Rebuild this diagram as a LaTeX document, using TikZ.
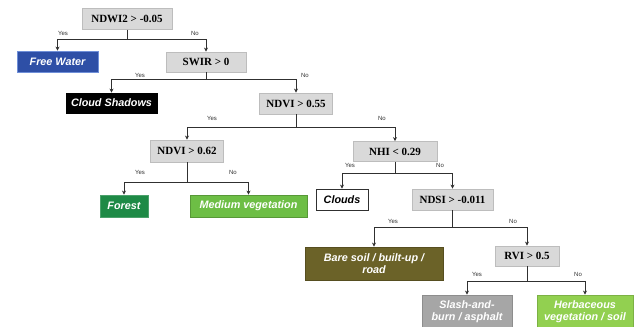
\documentclass[tikz,border=0pt]{standalone}
\usepackage{fontspec}
\setmainfont{Liberation Serif}
\newfontfamily\leaffont{Liberation Sans}
\usetikzlibrary{arrows.meta}
\definecolor{decfill}{HTML}{D9D9D9}
\definecolor{decdraw}{HTML}{BDBDBD}
\definecolor{waterc}{HTML}{2E4FA6}
\definecolor{waterd}{HTML}{6F8FD8}
\definecolor{forestc}{HTML}{1E8A46}
\definecolor{medc}{HTML}{6DBE45}
\definecolor{barec}{HTML}{6B6228}
\definecolor{slashc}{HTML}{A6A6A6}
\definecolor{herbc}{HTML}{92D050}
\definecolor{linec}{HTML}{303030}
\tikzset{
  decbox/.style={draw=decdraw, fill=decfill, line width=0.8pt, inner sep=0pt,
    font=\fontsize{11}{12}\selectfont\bfseries, text=black},
  leafbox/.style={inner sep=0pt, align=center, text=white, line width=0.8pt,
    font=\leaffont\fontsize{10.8}{12.5}\selectfont\bfseries\itshape},
  yn/.style={font=\leaffont\fontsize{6}{7}\selectfont, text=black!80, inner sep=0pt},
  conn/.style={draw=linec, line width=0.9pt, -{Stealth[length=4pt,width=4pt]}},
}
\begin{document}
\begin{tikzpicture}[x=1pt,y=-1pt]
\clip (0,0) rectangle (638,327);
\fill[white] (0,0) rectangle (638,327);
% decision nodes
\node[decbox, minimum width=90pt, minimum height=21pt] (n1) at (127,19) {NDWI2 > -0.05};
\node[decbox, minimum width=80pt, minimum height=20pt] (n2) at (206,62) {SWIR > 0};
\node[decbox, minimum width=73pt, minimum height=21pt] (n3) at (296,103.5) {NDVI > 0.55};
\node[decbox, minimum width=73pt, minimum height=22pt] (n4) at (187,151) {NDVI > 0.62};
\node[decbox, minimum width=84pt, minimum height=20pt] (n5) at (395,151.5) {NHI < 0.29};
\node[decbox, minimum width=81pt, minimum height=21pt] (n6) at (452.5,199.5) {NDSI > -0.011};
\node[decbox, minimum width=64pt, minimum height=20pt] (n7) at (527,256) {RVI > 0.5};
% leaves
\node[leafbox, draw=waterd, fill=waterc, minimum width=81pt, minimum height=21pt] (fw) at (57.5,61.5) {Free Water};
\node[leafbox, draw=black, fill=black, minimum width=91pt, minimum height=20pt] (cs) at (111.5,103) {Cloud Shadows};
\node[leafbox, draw=forestc!80!white, fill=forestc, minimum width=48pt, minimum height=22pt] (fo) at (124,206) {Forest};
\node[leafbox, draw=medc!80!black, fill=medc, minimum width=117pt, minimum height=22pt] (mv) at (248.5,206) {Medium vegetation};
\node[leafbox, draw=linec, fill=white, text=black, minimum width=52pt, minimum height=21pt] (cl) at (342,199.5) {Clouds};
\node[leafbox, draw=barec!80!black, fill=barec, minimum width=138pt, minimum height=33pt] (bs) at (374,263.5) {Bare soil / built-up /\\road};
\node[leafbox, draw=slashc!85!black, fill=slashc, minimum width=90pt, minimum height=33pt] (sb) at (467,311.5) {Slash-and-\\burn / asphalt};
\node[leafbox, draw=herbc!85!black, fill=herbc, minimum width=96pt, minimum height=33pt] (hv) at (585,311.5) {Herbaceous\\vegetation / soil};
% connectors
\draw[conn] (n1.south) -- ++(0,9.5) -| (fw.north);
\draw[conn] (n1.south) -- ++(0,9.5) -| (n2.north);
\draw[conn] (n2.south) -- ++(0,7) -| (cs.north);
\draw[conn] (n2.south) -- ++(0,7) -| (n3.north);
\draw[conn] (n3.south) -- ++(0,13) -| (n4.north);
\draw[conn] (n3.south) -- ++(0,13) -| (n5.north);
\draw[conn] (n4.south) -- ++(0,20) -| (fo.north);
\draw[conn] (n4.south) -- ++(0,20) -| (mv.north);
\draw[conn] (n5.south) -- ++(0,11.5) -| (cl.north);
\draw[conn] (n5.south) -- ++(0,11.5) -| (n6.north);
\draw[conn] (n6.south) -- ++(0,17) -| (bs.north);
\draw[conn] (n6.south) -- ++(0,17) -| (n7.north);
\draw[conn] (n7.south) -- ++(0,15) -| (sb.north);
\draw[conn] (n7.south) -- ++(0,15) -| (hv.north);
% yes/no labels
\node[yn] (y1) at (63,33) {Yes};   \node[yn] (m1) at (195,33) {No};
\node[yn] (y2) at (140,75) {Yes};  \node[yn] (m2) at (305,75) {No};
\node[yn] (y3) at (212,118) {Yes}; \node[yn] (m3) at (382,118) {No};
\node[yn] (y4) at (140,172) {Yes}; \node[yn] (m4) at (233,172) {No};
\node[yn] (y5) at (350,165) {Yes}; \node[yn] (m5) at (440,165) {No};
\node[yn] (y6) at (393,221) {Yes}; \node[yn] (m6) at (513,221) {No};
\node[yn] (y7) at (477,274) {Yes}; \node[yn] (m7) at (578,274) {No};
\end{tikzpicture}
\end{document}
